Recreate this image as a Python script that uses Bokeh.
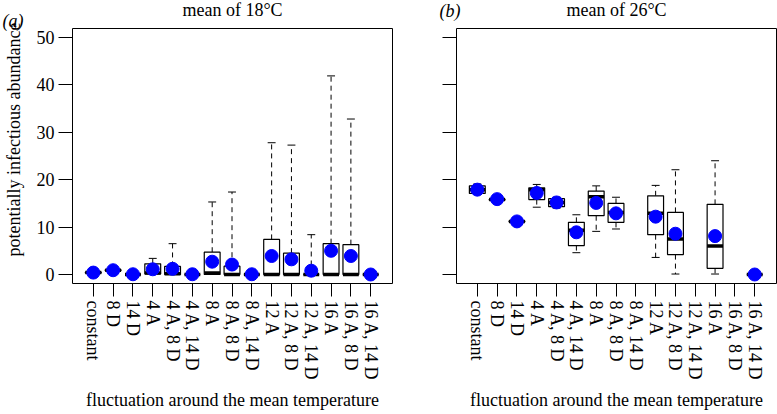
import math
import pandas as pd
from bokeh.plotting import figure
from bokeh.layouts import row
from bokeh.models import Range1d, FixedTicker, Label, ColumnDataSource
from bokeh.embed import file_html
from bokeh.resources import INLINE

categories = ["constant", "8 D", "14 D", "4 A", "4 A, 8 D", "4 A, 14 D", "8 A",
              "8 A, 8 D", "8 A, 14 D", "12 A", "12 A, 8 D", "12 A, 14 D",
              "16 A", "16 A, 8 D", "16 A, 14 D"]

# mean of 18 C
lo18 = [0.2, 0.7, 0.0, 0.0, 0.0, 0.0, 0.0, 0.0, 0.0, 0.0, 0.0, 0.0, 0.0, 0.0, 0.0]
q1_18 = [0.3, 0.8, 0.0, 0.1, 0.0, 0.0, 0.0, 0.0, 0.0, 0.0, 0.0, 0.0, 0.0, 0.0, 0.0]
med18 = [0.4, 0.9, 0.0, 0.3, 0.15, 0.0, 0.3, 0.0, 0.0, 0.0, 0.0, 0.0, 0.0, 0.0, 0.0]
q3_18 = [0.5, 1.0, 0.0, 2.25, 1.7, 0.0, 4.7, 1.75, 0.0, 7.4, 4.5, 0.0, 6.5, 6.3, 0.0]
hi18 = [0.6, 1.1, 0.0, 3.4, 6.5, 0.0, 15.3, 17.4, 0.0, 27.8, 27.3, 8.4, 41.9, 32.8, 0.0]
mean18 = [0.4, 0.9, 0.05, 1.1, 1.2, 0.05, 2.7, 2.1, 0.05, 3.9, 3.2, 0.8, 5.0, 3.9, 0.0]

# mean of 26 C (nan = no data)
nan = float("nan")
lo26 = [16.9, 15.6, 11.0, 14.2, 14.0, 4.6, 9.1, 9.6, nan, 3.6, 0.1, nan, 0.1, nan, 0.0]
q1_26 = [17.1, 15.7, 11.1, 15.8, 14.3, 6.1, 12.4, 11.0, nan, 8.4, 4.2, nan, 1.3, nan, 0.0]
med26 = [17.9, 15.8, 11.2, 17.9, 15.2, 9.35, 16.4, 13.1, nan, 12.9, 7.5, nan, 6.0, nan, 0.0]
q3_26 = [18.7, 15.9, 11.3, 18.3, 16.0, 11.0, 17.6, 15.0, nan, 16.6, 13.1, nan, 14.8, nan, 0.0]
hi26 = [19.1, 16.0, 11.4, 19.0, 16.3, 12.6, 18.7, 16.3, nan, 18.8, 22.1, nan, 24.0, nan, 0.0]
mean26 = [17.9, 15.9, 11.2, 17.2, 15.2, 8.9, 15.1, 12.9, nan, 12.2, 8.6, nan, 8.1, nan, 0.0]

y_ticks = [0, 10, 20, 30, 40, 50]
titles = ["mean of 18\u00b0C", "mean of 26\u00b0C"]
panel_tags = ["(a)", "(b)"]
x_title = "fluctuation around the mean temperature"
y_title = "potentially infectious abundance"

FONT = "Liberation Serif"
FS = "18px"
BOXW = 0.8


def make_panel(lo, q1, med, q3, hi, mean, left):
    pos = list(range(1, len(categories) + 1))
    df = pd.DataFrame(dict(x=pos, lo=lo, q1=q1, med=med, q3=q3, hi=hi, mean=mean))
    df = df.dropna().reset_index(drop=True)
    df["xl"] = df["x"] - BOXW / 2
    df["xr"] = df["x"] + BOXW / 2
    df["sl"] = df["x"] - BOXW / 4
    df["sr"] = df["x"] + BOXW / 4
    src = ColumnDataSource(df)

    idx = 0 if left else 1
    p = figure(width=416 if left else 361, height=414,
               x_range=Range1d(-0.05, 16.1), y_range=Range1d(-1.9, 51.9),
               output_backend="svg", toolbar_location=None,
               min_border_left=72 if left else 40,
               min_border_right=24 if left else 1,
               min_border_top=28, min_border_bottom=131)
    p.xgrid.visible = False
    p.ygrid.visible = False
    p.outline_line_color = "black"
    p.outline_line_width = 1
    p.background_fill_color = "white"
    p.border_fill_color = "white"

    # whiskers
    p.segment(x0="x", y0="q3", x1="x", y1="hi", source=src, line_color="black",
              line_width=1, line_dash="5 4")
    p.segment(x0="x", y0="q1", x1="x", y1="lo", source=src, line_color="black",
              line_width=1, line_dash="5 4")
    # staples
    p.segment(x0="sl", y0="hi", x1="sr", y1="hi", source=src, line_color="black", line_width=1)
    p.segment(x0="sl", y0="lo", x1="sr", y1="lo", source=src, line_color="black", line_width=1)
    # boxes
    p.vbar(x="x", width=BOXW, top="q3", bottom="q1", source=src, fill_color="white",
           line_color="black", line_width=1.2)
    # medians
    p.segment(x0="xl", y0="med", x1="xr", y1="med", source=src, line_color="black",
              line_width=3.5)
    # means
    p.scatter(x="x", y="mean", source=src, size=13, fill_color="#0000ff",
              line_color="#0000ff")

    # axes
    xa = p.xaxis[0]
    xa.ticker = FixedTicker(ticks=pos)
    xa.major_label_overrides = {k: v for k, v in zip(pos, categories)}
    xa.major_label_orientation = "vertical"
    xa.major_tick_out = 13
    xa.major_tick_in = 0
    xa.minor_tick_line_color = None
    xa.axis_line_color = None
    xa.major_tick_line_color = "black"
    xa.major_label_standoff = 4
    xa.major_label_text_font = FONT
    xa.major_label_text_font_size = FS
    xa.major_label_text_color = "black"
    xa.axis_label = x_title
    xa.axis_label_text_font = FONT
    xa.axis_label_text_font_size = FS
    xa.axis_label_text_font_style = "normal"
    xa.axis_label_text_color = "black"
    xa.axis_label_standoff = 7

    ya = p.yaxis[0]
    ya.ticker = FixedTicker(ticks=y_ticks)
    ya.major_tick_out = 14
    ya.major_tick_in = 0
    ya.minor_tick_line_color = None
    ya.axis_line_color = None
    ya.major_tick_line_color = "black"
    ya.major_label_standoff = 4 if left else 0
    ya.major_label_text_font = FONT
    ya.major_label_text_font_size = FS
    ya.major_label_text_color = "black"
    ya.major_label_orientation = "horizontal"
    if not left:
        ya.major_label_overrides = {t: "" for t in y_ticks}

    # panel title (in the top border)
    ttl = Label(x=160, y=18.5, x_units="screen", y_units="screen",
                text=titles[idx], text_align="center", text_baseline="alphabetic",
                text_font=FONT, text_font_size=FS, text_color="black")
    p.add_layout(ttl, "above")

    tag = Label(x=0, y=263 if left else 273, x_units="screen", y_units="screen",
                text=panel_tags[idx], text_align="left",
                text_baseline="alphabetic", text_font=FONT,
                text_font_size=FS, text_font_style="italic",
                text_color="black")
    if left:
        ylab = Label(x=0, y=144, x_units="screen", y_units="screen",
                     text=y_title, angle=math.pi / 2, text_align="center",
                     text_baseline="middle", text_font=FONT, text_font_size=FS,
                     text_color="black")
        p.add_layout(ylab, "left")
        tag.x = -390
        p.add_layout(tag, "right")
    else:
        tag.x = 18
        p.add_layout(tag, "left")
    return p


p1 = make_panel(lo18, q1_18, med18, q3_18, hi18, mean18, True)
p2 = make_panel(lo26, q1_26, med26, q3_26, hi26, mean26, False)
layout = row(p1, p2, spacing=0)

open("out.html", "w").write(file_html(layout, INLINE))
